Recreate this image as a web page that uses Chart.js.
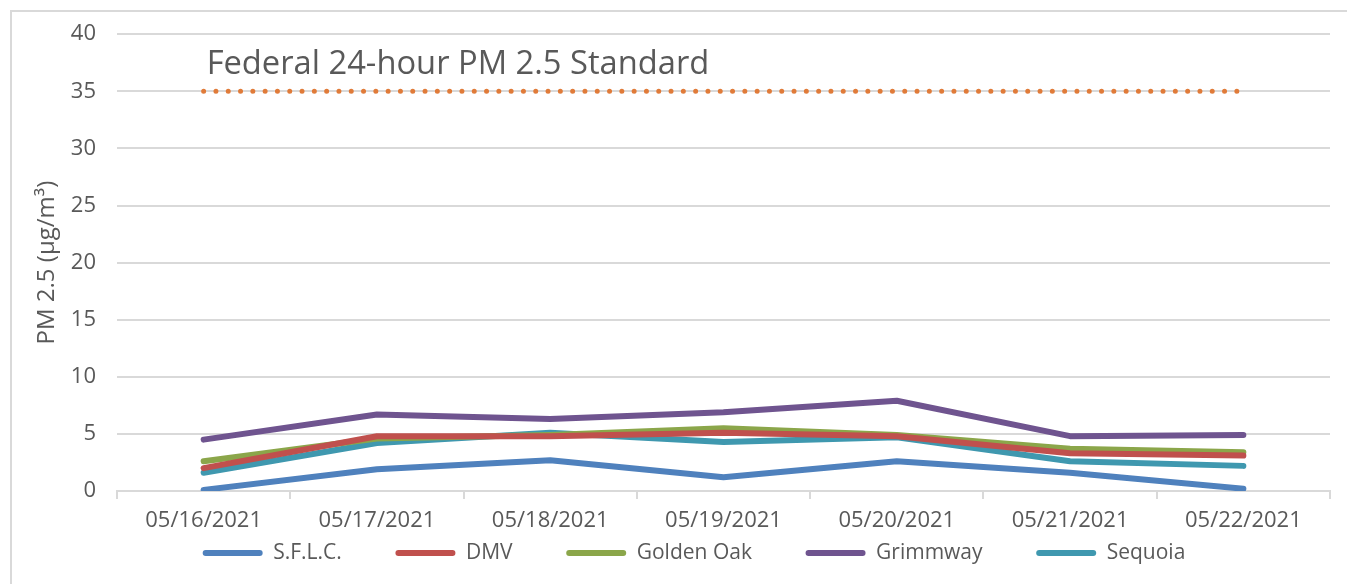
<!DOCTYPE html>
<html>
<head>
<meta charset="utf-8">
<script src="https://cdn.jsdelivr.net/npm/chart.js@4/dist/chart.umd.min.js"></script>
<style>
  body { margin: 0; background: #fff; overflow: hidden; }
  #wrap { position: absolute; left: 0; top: 0; width: 1347px; height: 584px; }
  #frame { position: absolute; left: 10px; top: 10px; width: 1400px; height: 620px; border: 2px solid #d9d9d9; box-sizing: border-box; }
</style>
</head>
<body>
<div id="frame"></div>
<div id="wrap"><canvas id="chart" width="1347" height="584"></canvas></div>
<script>
// categories (days)
var jours = ['05/16/2021', '05/17/2021', '05/18/2021', '05/19/2021', '05/20/2021', '05/21/2021', '05/22/2021'];

// PM 2.5 values per site
var sflc = [0.1, 1.9, 2.7, 1.2, 2.6, 1.6, 0.2];
var dmv = [2.0, 4.8, 4.8, 5.1, 4.8, 3.3, 3.1];
var goldenOak = [2.6, 4.6, 4.9, 5.5, 4.9, 3.7, 3.4];
var grimmway = [4.5, 6.7, 6.3, 6.9, 7.9, 4.8, 4.9];
var sequoia = [1.6, 4.2, 5.1, 4.3, 4.7, 2.6, 2.2];

// federal standard
var standard = [35, 35, 35, 35, 35, 35, 35];
var standardTexte = 'Federal 24-hour PM 2.5 Standard';
var titreY = 'PM 2.5 (µg/m³)';

var texteGris = '#595959';
var grille = '#d9d9d9';
var police = "'Open Sans', sans-serif";

function serie(label, data, color) {
    return {
        label: label,
        data: data,
        borderColor: color,
        backgroundColor: color,
        borderWidth: 6,
        pointRadius: 0,
        borderCapStyle: 'round',
        borderJoinStyle: 'round',
        tension: 0,
        fill: false
    };
}

// texte au dessus de la ligne du standard + titre de l'axe y
var textes = {
    id: 'textes',
    afterDatasetsDraw: function (chart) {
        var ctx = chart.ctx;
        var x = chart.scales.x.getPixelForValue(0);
        var y = chart.scales.y.getPixelForValue(35);
        ctx.save();
        ctx.font = '32.7px ' + police;
        ctx.fillStyle = texteGris;
        ctx.textBaseline = 'alphabetic';
        ctx.fillText(standardTexte, x + 3, y - 17);

        var area = chart.chartArea;
        ctx.translate(47, (area.top + area.bottom) / 2);
        ctx.rotate(-Math.PI / 2);
        ctx.font = '24px ' + police;
        ctx.textAlign = 'center';
        ctx.textBaseline = 'middle';
        ctx.fillText(titreY, 0, 0);
        ctx.restore();
    }
};

var ctx = document.getElementById('chart');
var myChart = new Chart(ctx, {
    type: 'line',
    data: {
        labels: jours,
        datasets: [
            serie('S.F.L.C.', sflc, '#4f81bd'),
            serie('DMV', dmv, '#c0504d'),
            serie('Golden Oak', goldenOak, '#8ba64a'),
            serie('Grimmway', grimmway, '#6f548f'),
            serie('Sequoia', sequoia, '#3f98af'),
            {
                label: 'standard',
                data: standard,
                borderColor: '#e07b39',
                borderWidth: 5,
                borderDash: [0, 12.3],
                borderCapStyle: 'round',
                pointRadius: 0,
                fill: false
            }
        ]
    },
    options: {
        responsive: false,
        animation: false,
        layout: { padding: { top: 32, right: 17, left: 58, bottom: 10.5 } },
        plugins: {
            tooltip: { enabled: false },
            legend: {
                position: 'bottom',
                labels: {
                    color: texteGris,
                    font: { family: police, size: 21 },
                    boxWidth: 60,
                    boxHeight: 6,
                    padding: 10,
                    useBorderRadius: true,
                    borderRadius: 3,
                    filter: function (item) { return item.text.trim() !== 'standard'; },
                    generateLabels: function (chart) {
                        var n = chart.data.datasets.length - 2;
                        return chart.data.datasets.map(function (ds, i) {
                            // espaces en fin de texte pour ecarter les items
                            var espace = i < n ? '        ' : '';
                            return {
                                text: ds.label + espace,
                                fillStyle: ds.borderColor,
                                strokeStyle: ds.borderColor,
                                lineWidth: 0,
                                borderRadius: 3,
                                fontColor: texteGris,
                                datasetIndex: i
                            };
                        });
                    }
                }
            }
        },
        scales: {
            x: {
                offset: true,
                afterFit: function (scale) { scale.height = 41.5; },
                grid: {
                    offset: true,
                    drawOnChartArea: false,
                    drawTicks: true,
                    tickLength: 8,
                    color: grille,
                    lineWidth: 2
                },
                border: { color: grille, width: 2 },
                ticks: {
                    color: texteGris,
                    font: { family: police, size: 22 },
                    padding: 9,
                    maxRotation: 0
                }
            },
            y: {
                min: 0,
                max: 40,
                afterFit: function (scale) { scale.width = 59; },
                ticks: {
                    stepSize: 5,
                    color: texteGris,
                    font: { family: police, size: 22 },
                    padding: 21
                },
                grid: { color: grille, lineWidth: 2, drawTicks: false },
                border: { display: false }
            }
        }
    },
    plugins: [textes]
});
</script>
</body>
</html>
